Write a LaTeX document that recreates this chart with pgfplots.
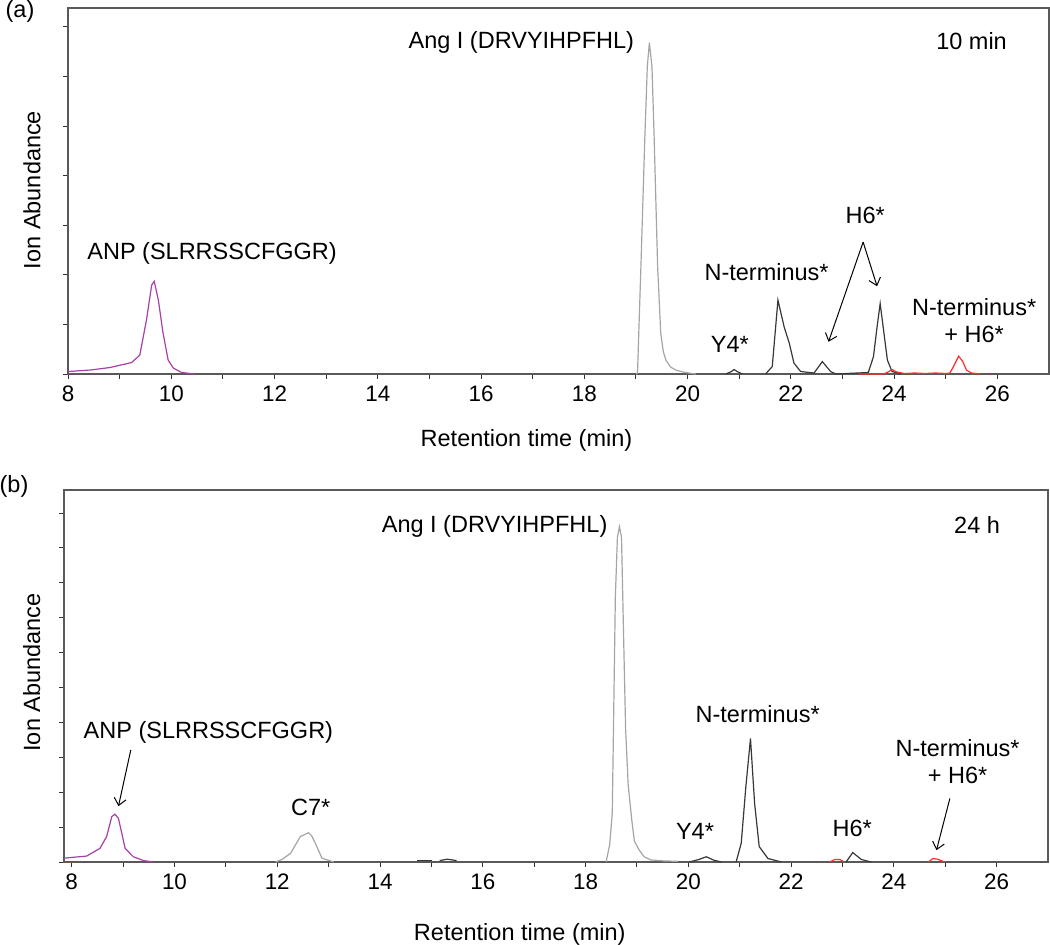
\documentclass[border=0pt]{standalone}
\usepackage{fontspec}
\setmainfont{Liberation Sans}
\usepackage{pgfplots}
\pgfplotsset{compat=1.18}
\usetikzlibrary{arrows.meta}
\definecolor{anpcol}{RGB}{168,62,168}
\definecolor{angcol}{RGB}{165,165,165}
\definecolor{darkcol}{RGB}{55,55,55}
\definecolor{redcol}{RGB}{255,45,45}
\tikzset{
  ann/.style={font=\fontsize{11.75}{13.5}\selectfont, align=center},
  arr/.style={draw=black, line width=0.5pt, -{Straight Barb[length=3.5pt,width=6pt]}},
}
\pgfplotsset{
  chrom/.style={
    scale only axis, clip=false,
    axis line style={draw=black!65, line width=0.7pt},
    tick style={draw=black!80, line width=0.5pt},
    major tick length=2.6pt, minor tick length=2.6pt,
    tick align=outside, xtick pos=bottom, ytick pos=left,
    xtick={8,10,...,26}, minor xtick={9,11,...,25},
    yticklabels={},
    /pgf/number format/assume math mode=true,
    tick label style={font=\fontsize{11.2}{13}\selectfont},
    every axis plot/.append style={line width=0.6pt, no markers},
  },
}
\begin{document}
\begin{tikzpicture}[x=1pt,y=1pt]
\path[use as bounding box] (0,0) rectangle (525,-472.5);
% ---------------- panel (a)
\begin{axis}[chrom, at={(34pt,-4pt)}, anchor=north west,
  width=490.5pt, height=183pt, xmin=8, xmax=27, ymin=0, ymax=7.38,
  ytick={0,...,7}]
\addplot[anpcol] coordinates {(8.0,0.05)(8.43,0.08)(8.81,0.13)(9.23,0.23)(9.39,0.38)(9.52,1.09)(9.62,1.79)(9.67,1.87)(9.75,1.49)(9.84,0.83)(9.94,0.28)(10.04,0.12)(10.2,0.03)(10.46,0.0)};
\addplot[angcol] coordinates {(19.0,0)(19.03,0.02)(19.1,2.3)(19.17,4.7)(19.22,6.2)(19.26,6.68)(19.31,6.2)(19.35,4.86)(19.42,2.16)(19.48,0.82)(19.53,0.45)(19.58,0.28)(19.67,0.14)(19.77,0.08)(19.95,0.03)(20.16,0)};
\addplot[darkcol] coordinates {(20.74,0)(20.85,0.05)(20.9,0.09)(20.96,0.05)(21.06,0)};
\addplot[darkcol] coordinates {(21.51,0)(21.64,0.15)(21.75,1.49)(21.87,0.95)(21.97,0.62)(22.06,0.22)(22.19,0.05)(22.45,0.02)(22.61,0.25)(22.77,0.05)(22.87,0)(23.5,0.03)(23.6,0.35)(23.67,0.95)(23.73,1.42)(23.8,0.85)(23.87,0.28)(23.96,0.05)(24.15,0)};
\addplot[redcol] coordinates {(23.32,0)(23.8,0)(23.9,0.05)(23.96,0.09)(24.05,0.04)(24.2,0.01)(24.4,0.02)(24.6,0.01)(24.8,0.02)(25.0,0.01)(25.08,0.02)(25.15,0.15)(25.25,0.36)(25.33,0.25)(25.4,0.08)(25.5,0.02)(25.67,0.0)};
\node[ann] at (axis cs:10.79,2.44) {ANP (SLRRSSCFGGR)};
\node[ann] at (axis cs:16.78,6.69) {Ang I (DRVYIHPFHL)};
\node[ann] at (axis cs:25.5,6.71) {10 min};
\node[ann] at (axis cs:21.53,2.06) {N-terminus*};
\node[ann] at (axis cs:23.44,3.19) {H6*};
\node[ann] at (axis cs:20.82,0.60) {Y4*};
\node[ann] at (axis cs:25.55,1.08) {N-terminus*\\+ H6*};
\draw[arr] (axis cs:23.40,2.66) -- (axis cs:22.73,0.65);
\draw[arr] (axis cs:23.40,2.66) -- (axis cs:23.67,1.77);
\node[ann] at (axis cs:16.88,0) [yshift=-33pt] {Retention time (min)};
\end{axis}
% ---------------- panel (b)
\begin{axis}[chrom, at={(32pt,-245pt)}, anchor=north west,
  width=492pt, height=186pt, xmin=7.85, xmax=27, ymin=0, ymax=10.66,
  ytick={0,...,10}]
\addplot[anpcol] coordinates {(7.85,0.11)(8.29,0.17)(8.55,0.39)(8.68,0.73)(8.78,1.30)(8.84,1.37)(8.91,1.25)(8.97,0.85)(9.04,0.39)(9.2,0.15)(9.4,0.04)(9.59,0.0)};
\addplot[angcol] coordinates {(11.97,0)(12.1,0.08)(12.26,0.25)(12.45,0.73)(12.51,0.77)(12.61,0.84)(12.67,0.75)(12.74,0.54)(12.87,0.11)(13.1,0)};
\addplot[darkcol] coordinates {(14.72,0.04)(15.02,0.04)};
\addplot[darkcol] coordinates {(15.16,0.04)(15.31,0.08)(15.49,0.04)};
\addplot[angcol] coordinates {(18.4,0)(18.47,0.5)(18.52,1.4)(18.55,4.5)(18.58,7.6)(18.62,9.3)(18.66,9.61)(18.7,9.3)(18.74,6.5)(18.78,3.8)(18.83,2.2)(18.9,1.2)(18.95,0.6)(19.04,0.35)(19.14,0.15)(19.27,0.06)(19.53,0.03)(19.8,0.02)};
\addplot[darkcol] coordinates {(20.02,0)(20.2,0.07)(20.35,0.15)(20.5,0.05)(20.64,0)};
\addplot[darkcol] coordinates {(20.93,0)(21.03,0.54)(21.12,2.16)(21.21,3.54)(21.29,1.68)(21.38,0.44)(21.55,0.1)(21.81,0)};
\addplot[redcol] coordinates {(22.75,0)(22.85,0.07)(22.95,0.07)(23.04,0)};
\addplot[darkcol] coordinates {(23.07,0)(23.2,0.27)(23.37,0.07)(23.56,0)};
\addplot[redcol] coordinates {(24.67,0)(24.76,0.1)(24.85,0.08)(24.99,0)};
\node[ann] at (axis cs:10.66,3.71) {ANP (SLRRSSCFGGR)};
\draw[arr] (axis cs:9.15,3.21) -- (axis cs:8.91,1.6);
\node[ann] at (axis cs:12.65,1.55) {C7*};
\node[ann] at (axis cs:16.23,9.63) {Ang I (DRVYIHPFHL)};
\node[ann] at (axis cs:25.62,9.66) {24 h};
\node[ann] at (axis cs:21.35,4.24) {N-terminus*};
\node[ann] at (axis cs:20.13,0.87) {Y4*};
\node[ann] at (axis cs:23.19,0.97) {H6*};
\node[ann] at (axis cs:25.24,2.89) {N-terminus*\\+ H6*};
\draw[arr] (axis cs:25.09,1.82) -- (axis cs:24.83,0.34);
\node[ann] at (axis cs:16.72,0) [yshift=-36pt] {Retention time (min)};
\end{axis}
\node[font=\fontsize{11.75}{13.5}\selectfont] at (10pt,-5.5pt) {(a)};
\node[font=\fontsize{11.75}{13.5}\selectfont] at (7pt,-243pt) {(b)};
\node[font=\fontsize{11.75}{13.5}\selectfont, rotate=90] at (16pt,-95pt) {Ion Abundance};
\node[font=\fontsize{11.75}{13.5}\selectfont, rotate=90] at (15.85pt,-336.25pt) {Ion Abundance};
\end{tikzpicture}
\end{document}
